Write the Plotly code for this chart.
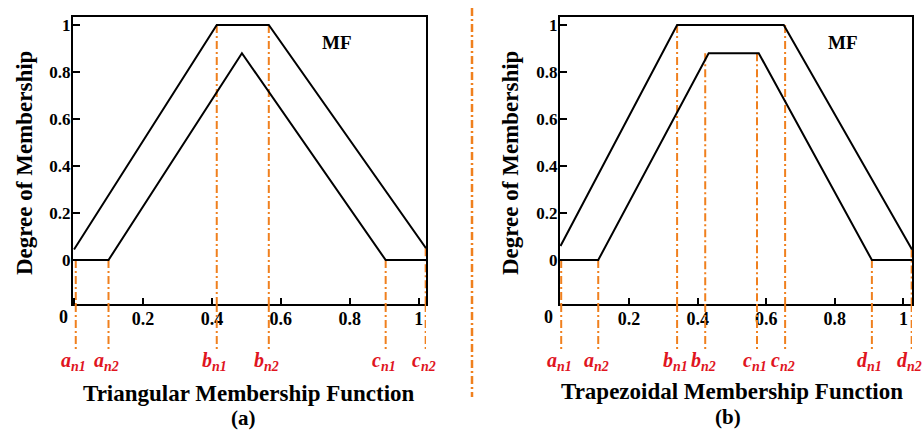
import plotly.graph_objects as go

# ---------------- data ----------------
tick_vals = [0, 0.2, 0.4, 0.6, 0.8, 1.0]
x_tick_text = ["", "0.2", "0.4", "0.6", "0.8", "1"]
y_tick_text = ["0", "0.2", "0.4", "0.6", "0.8", "1"]

# (a) triangular membership function
tri_outer_x = [0.0, 0.414, 0.565, 1.021]
tri_outer_y = [0.045, 1.0, 1.0, 0.05]
tri_inner_x = [0.0, 0.10, 0.487, 0.904, 1.021]
tri_inner_y = [0.0, 0.0, 0.88, 0.0, 0.0]
tri_mark_x = [0.005, 0.10, 0.414, 0.565, 0.904, 1.02]
tri_mark_top = [0.0, 0.0, 1.0, 1.0, 0.0, 0.05]
tri_mark_letter = ["a", "a", "b", "b", "c", "c"]
tri_mark_sub = ["n1", "n2", "n1", "n2", "n1", "n2"]

# (b) trapezoidal membership function
trap_outer_x = [0.0, 0.34, 0.651, 1.025]
trap_outer_y = [0.06, 1.0, 1.0, 0.045]
trap_inner_x = [0.0, 0.11, 0.432, 0.578, 0.908, 1.025]
trap_inner_y = [0.0, 0.0, 0.88, 0.88, 0.0, 0.0]
trap_mark_x = [0.002, 0.11, 0.34, 0.422, 0.573, 0.655, 0.908, 1.024]
trap_mark_top = [0.0, 0.0, 1.0, 0.88, 0.88, 1.0, 0.0, 0.045]
trap_mark_letter = ["a", "a", "b", "b", "c", "c", "d", "d"]
trap_mark_sub = ["n1", "n2", "n1", "n2", "n1", "n2", "n1", "n2"]

x_titles = ["Triangular Membership Function", "Trapezoidal Membership Function"]
panel_tags = ["(a)", "(b)"]
y_title = "Degree of Membership"
mf_label = "MF"

# ---------------- style ----------------
W, H = 923, 430
FONT = "Liberation Serif"
ORANGE = "#F0801E"
RED = "#E0141E"
DASH = "8px,3px,2px,3px"
Y_RANGE = [-0.187, 1.034]

fig = go.Figure()

panels = [
    dict(xa="x", ya="y", ox=tri_outer_x, oy=tri_outer_y, ix=tri_inner_x, iy=tri_inner_y,
         mx=tri_mark_x, mt=tri_mark_top, ml=tri_mark_letter, ms=tri_mark_sub,
         dom=[73 / W, 426 / W], rng=[-0.003, 1.021], ytx=25 / W, xtx=249 / W, xty=1 - 393 / H,
         tagx=243 / W, tagy=1 - 418 / H, zx=63 / W, mfx=337 / W),
    dict(xa="x2", ya="y2", ox=trap_outer_x, oy=trap_outer_y, ix=trap_inner_x, iy=trap_inner_y,
         mx=trap_mark_x, mt=trap_mark_top, ml=trap_mark_letter, ms=trap_mark_sub,
         dom=[560 / W, 912 / W], rng=[-0.0015, 1.025], ytx=511 / W, xtx=732 / W, xty=1 - 391 / H,
         tagx=728 / W, tagy=1 - 417 / H, zx=548 / W, mfx=843 / W),
]

shapes = []
annotations = []
ydom = [1 - 304 / H, 1 - 17 / H]

for k, p in enumerate(panels):
    for xs, ys in ((p["ox"], p["oy"]), (p["ix"], p["iy"])):
        fig.add_trace(go.Scatter(x=xs, y=ys, mode="lines", xaxis=p["xa"], yaxis=p["ya"],
                                 line=dict(color="black", width=2), showlegend=False,
                                 hoverinfo="skip"))
    for xv, top, let, sub in zip(p["mx"], p["mt"], p["ml"], p["ms"]):
        # part inside the axes box
        shapes.append(dict(type="line", xref=p["xa"], yref=p["ya"], x0=xv, x1=xv,
                           y0=top, y1=Y_RANGE[0], layer="below",
                           line=dict(color=ORANGE, width=2, dash=DASH)))
        # part below the axes box
        shapes.append(dict(type="line", xref=p["xa"], yref=p["ya"] + " domain", x0=xv, x1=xv,
                           y0=0, y1=-0.165, layer="above",
                           line=dict(color=ORANGE, width=2, dash=DASH)))
        annotations.append(dict(xref=p["xa"], yref=p["ya"] + " domain", x=xv, y=-0.2,
                                xanchor="center", yanchor="middle", xshift=-2, showarrow=False,
                                text=f"<b><i>{let}<sub>{sub}</sub></i></b>",
                                font=dict(family=FONT, size=20, color=RED)))
    ax = dict(domain=p["dom"], range=p["rng"], tickvals=tick_vals, ticktext=x_tick_text,
              ticks="inside", ticklen=6, tickwidth=2, tickcolor="black",
              showline=True, linewidth=2, linecolor="black", mirror=True,
              showgrid=False, zeroline=False, anchor=p["ya"], ticklabelstandoff=-3,
              tickfont=dict(family=FONT, size=18, color="black", weight="bold"))
    ay = dict(domain=ydom, range=Y_RANGE, tickvals=tick_vals, ticktext=y_tick_text,
              ticks="inside", ticklen=7, tickwidth=2, tickcolor="black",
              showline=True, linewidth=2, linecolor="black", mirror=True,
              showgrid=False, zeroline=False, anchor=p["xa"], ticklabelstandoff=-3,
              tickfont=dict(family=FONT, size=17, color="black", weight="bold"))
    suffix = "" if k == 0 else "2"
    fig.layout["xaxis" + suffix] = ax
    fig.layout["yaxis" + suffix] = ay

    # "0" label of x axis (set left of origin)
    annotations.append(dict(xref="paper", yref="paper", x=p["zx"], y=1 - 317 / H,
                            xanchor="center", yanchor="middle", showarrow=False, text="<b>0</b>",
                            font=dict(family=FONT, size=18, color="black")))
    # y title
    annotations.append(dict(xref="paper", yref="paper", x=p["ytx"], y=1 - 163 / H,
                            xanchor="center", yanchor="middle", showarrow=False, textangle=-90,
                            text=f"<b>{y_title}</b>",
                            font=dict(family=FONT, size=23, color="black")))
    # x title
    annotations.append(dict(xref="paper", yref="paper", x=p["xtx"], y=p["xty"],
                            xanchor="center", yanchor="middle", showarrow=False,
                            text=f"<b>{x_titles[k]}</b>",
                            font=dict(family=FONT, size=23, color="black")))
    # panel tag
    annotations.append(dict(xref="paper", yref="paper", x=p["tagx"], y=p["tagy"],
                            xanchor="center", yanchor="middle", showarrow=False,
                            text=f"<b>{panel_tags[k]}</b>",
                            font=dict(family=FONT, size=21, color="black")))
    # MF label
    annotations.append(dict(xref="paper", yref="paper", x=p["mfx"], y=1 - 42.5 / H,
                            xanchor="center", yanchor="middle", showarrow=False,
                            text=f"<b>{mf_label}</b>",
                            font=dict(family=FONT, size=19, color="black")))

# separator between the panels
shapes.append(dict(type="line", xref="paper", yref="paper", x0=472 / W, x1=472 / W,
                   y0=1 - 8 / H, y1=1 - 397 / H, layer="above",
                   line=dict(color=ORANGE, width=2.5, dash=DASH)))

fig.update_layout(width=W, height=H, margin=dict(l=0, r=0, t=0, b=0),
                  paper_bgcolor="white", plot_bgcolor="white",
                  shapes=shapes, annotations=annotations, showlegend=False)

fig.write_html("out.html", config={"displayModeBar": False},
               post_script="document.body.style.margin='0px';document.body.style.padding='0px';")
